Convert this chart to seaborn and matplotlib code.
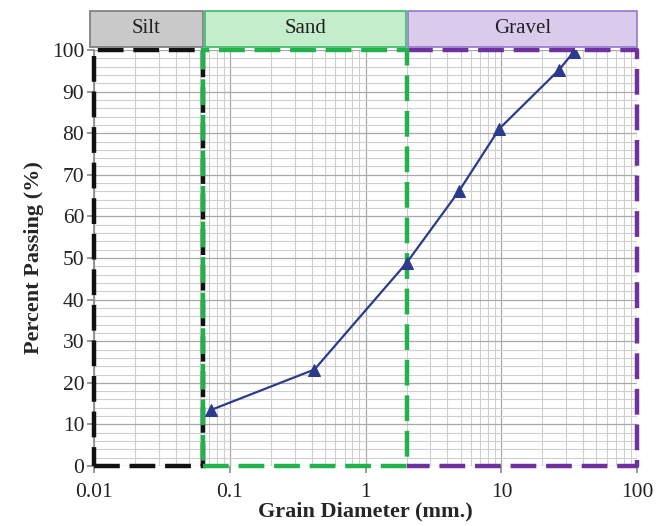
import numpy as np
import pandas as pd
import seaborn as sns
import matplotlib.pyplot as plt
from matplotlib.patches import Rectangle
from matplotlib.ticker import LogLocator, MultipleLocator, FixedLocator, FixedFormatter

# sieve data
grain_mm = [0.073, 0.42, 2.0, 4.85, 9.6, 26.5, 34.0]
passing_pct = [13.5, 23.2, 48.8, 66.0, 81.0, 95.2, 99.5]

# soil class zones (mm)
zone_names = ["Silt", "Sand", "Gravel"]
zone_lo = [0.01, 0.064, 2.0]
zone_hi = [0.064, 2.0, 100.0]
zone_line = ["#111111", "#22b24c", "#7030a0"]
zone_fill = ["#c9c9c9", "#c4edcb", "#dacbed"]
zone_edge = ["#7a7a7a", "#3cb868", "#9478c8"]

x_ticks = [0.01, 0.1, 1, 10, 100]
x_tick_labels = ["0.01", "0.1", "1", "10", "100"]

df = pd.DataFrame({"grain": grain_mm, "passing": passing_pct})

sns.set_theme(style="white")
plt.rcParams["font.family"] = ["Liberation Serif", "DejaVu Serif"]

fig = plt.figure(figsize=(6.57, 5.26), dpi=100)
ax = fig.add_axes([0.143, 0.114, 0.827, 0.791])

ax.set_xscale("log")
ax.set_xlim(0.01, 100)
ax.set_ylim(0, 100)

# grid
ax.xaxis.set_major_locator(FixedLocator(x_ticks))
ax.xaxis.set_major_formatter(FixedFormatter(x_tick_labels))
ax.xaxis.set_minor_locator(LogLocator(base=10, subs=np.arange(2, 10)))
ax.yaxis.set_major_locator(MultipleLocator(10))
ax.yaxis.set_minor_locator(MultipleLocator(2))
ax.grid(True, which="major", color="#a8a8a8", lw=0.9)
ax.grid(True, which="minor", color="#cfcfcf", lw=0.8)
ax.set_axisbelow(True)

# zone boxes (dashed); gravel left side is covered by the sand box edge
dash = (0, (5.8, 2.2))
for name, lo, hi, col in zip(zone_names, zone_lo, zone_hi, zone_line):
    if name == "Gravel":
        ax.plot([lo, hi, hi, lo], [100, 100, 0, 0], color=col, lw=3.2, ls=dash,
                clip_on=False, zorder=3, solid_capstyle="butt")
    else:
        z = 3.2 if name == "Sand" else 3
        ax.add_patch(Rectangle((lo, 0), hi - lo, 100, fill=False, ec=col, lw=3.2,
                               ls=dash, clip_on=False, zorder=z))

# header boxes above the axes
trans = ax.get_xaxis_transform()
for name, lo, hi, fc, ec in zip(zone_names, zone_lo, zone_hi, zone_fill, zone_edge):
    left = lo * 0.935 if name == "Silt" else lo * 1.02
    right = hi * 0.99
    ax.add_patch(Rectangle((left, 1.008), right - left, 0.086, transform=trans,
                           fc=fc, ec=ec, lw=1.2, clip_on=False, zorder=4))
    ax.text(np.sqrt(left * right), 1.051, name, transform=trans, ha="center",
            va="center", fontsize=15, color="#222222", zorder=5)

sns.lineplot(data=df, x="grain", y="passing", ax=ax, color="#2b3a8c", lw=1.6,
             marker="^", markersize=9, markeredgecolor="#2b3a8c", zorder=6)

for s in ["top", "right", "bottom"]:
    ax.spines[s].set_visible(False)
ax.spines["left"].set_color("#8c8c8c")

ax.tick_params(axis="both", which="major", labelsize=15.5, colors="#8c8c8c",
               labelcolor="#222222", length=5, direction="out", left=True, bottom=True)
ax.tick_params(axis="y", which="major", pad=2)
ax.tick_params(axis="x", which="major", pad=7)
ax.tick_params(axis="both", which="minor", length=0)

ax.set_xlabel("Grain Diameter (mm.)", fontsize=16, fontweight="bold", labelpad=0)
ax.set_ylabel("Percent Passing (%)", fontsize=16, fontweight="bold", labelpad=6)

fig.savefig("out.png", dpi=100)
